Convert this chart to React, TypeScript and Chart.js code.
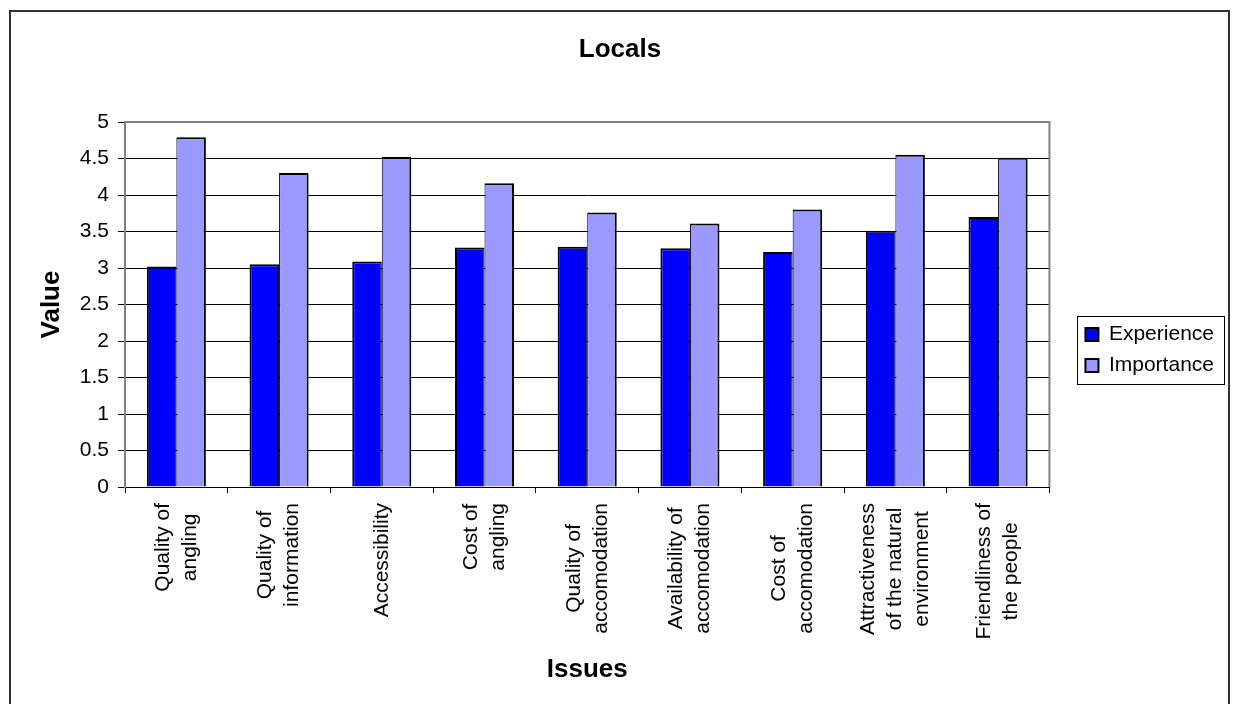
import React, { useEffect, useRef } from "react";
import { Chart, registerables } from "chart.js";

Chart.register(...registerables);

const FONT = "'Liberation Sans', Arial, Helvetica, sans-serif";

const chartTitle = "Locals";
const xTitle = "Issues";
const yTitle = "Value";

const categories: string[][] = [
  ["Quality of", "angling"],
  ["Quality of", "information"],
  ["Accessibility"],
  ["Cost of", "angling"],
  ["Quality of", "accomodation"],
  ["Availability of", "accomodation"],
  ["Cost of", "accomodation"],
  ["Attractiveness", "of the natural", "environment"],
  ["Friendliness of", "the people"],
];

const experience = [3.02, 3.05, 3.09, 3.28, 3.29, 3.27, 3.22, 3.51, 3.7];
const importance = [4.79, 4.3, 4.52, 4.16, 3.76, 3.61, 3.8, 4.55, 4.51];

const seriesNames = ["Experience", "Importance"];
const seriesColors = ["#0000FF", "#9999FF"];

const yMin = 0;
const yMax = 5;
const yStep = 0.5;

export default function App() {
  const ref = useRef<HTMLCanvasElement | null>(null);

  useEffect(() => {
    const canvas = ref.current;
    if (!canvas) return;

    const framePlugin = {
      id: "frame",
      beforeDraw(chart: any) {
        const { ctx, width, height } = chart;
        ctx.save();
        ctx.fillStyle = "#ffffff";
        ctx.fillRect(0, 0, width, height);
        ctx.restore();
      },
      beforeDatasetsDraw(chart: any) {
        const { ctx, chartArea } = chart;
        ctx.save();
        ctx.strokeStyle = "#808080";
        ctx.lineWidth = 2;
        ctx.beginPath();
        ctx.moveTo(chartArea.left, chartArea.top);
        ctx.lineTo(chartArea.right, chartArea.top);
        ctx.lineTo(chartArea.right, chartArea.bottom);
        ctx.stroke();
        ctx.restore();
      },
      afterDraw(chart: any) {
        const { ctx, width, height } = chart;
        ctx.save();
        ctx.strokeStyle = "#333333";
        ctx.lineWidth = 2;
        ctx.strokeRect(10, 11, width - 5 - 10, height + 10);
        ctx.restore();
      },
    };

    const xLabelPlugin = {
      id: "xLabels",
      afterDraw(chart: any) {
        const { ctx } = chart;
        const xs = chart.scales.x;
        const labels = chart.data.labels as string[][];
        const lineH = 27;
        const topY = xs.top + 16;
        ctx.save();
        ctx.font = `21px ${FONT}`;
        ctx.fillStyle = "#000000";
        ctx.textAlign = "center";
        ctx.textBaseline = "middle";
        labels.forEach((lines, i) => {
          const x = xs.getPixelForTick(i);
          const w = Math.max(...lines.map((l) => ctx.measureText(l).width));
          ctx.save();
          ctx.translate(x, topY);
          ctx.rotate(-Math.PI / 2);
          lines.forEach((line, j) => {
            const v = (j - (lines.length - 1) / 2) * lineH;
            ctx.fillText(line, -w / 2, v);
          });
          ctx.restore();
        });
        ctx.restore();
      },
    };

    const legendPlugin = {
      id: "legendPlace",
      afterLayout(chart: any) {
        const lg = chart.legend;
        if (!lg) return;
        const dx = chart.chartArea.right + 26 - lg.left;
        lg.left += dx;
        lg.right += dx;
        lg.top += 3;
        lg.bottom += 3;
      },
      afterDraw(chart: any) {
        const lg = chart.legend;
        if (!lg || !lg.legendHitBoxes || !lg.legendHitBoxes.length) return;
        const hb = lg.legendHitBoxes;
        const x0 = Math.min(...hb.map((h: any) => h.left)) - 8;
        const y0 = Math.min(...hb.map((h: any) => h.top)) - 8;
        const x1 = Math.max(...hb.map((h: any) => h.left + h.width)) + 10;
        const y1 = Math.max(...hb.map((h: any) => h.top + h.height)) + 8;
        const { ctx } = chart;
        ctx.save();
        ctx.strokeStyle = "#000000";
        ctx.lineWidth = 1;
        ctx.strokeRect(Math.round(x0) + 0.5, Math.round(y0) + 0.5, Math.round(x1 - x0), Math.round(y1 - y0));
        ctx.restore();
      },
    };

    const chart = new Chart(canvas, {
      type: "bar",
      data: {
        labels: categories,
        datasets: [
          {
            label: seriesNames[0],
            data: experience,
            backgroundColor: seriesColors[0],
            borderColor: "#000000",
            borderWidth: { top: 2, left: 2, right: 1, bottom: 0 },
            borderSkipped: "start",
            categoryPercentage: 0.575,
            barPercentage: 1,
          },
          {
            label: seriesNames[1],
            data: importance,
            backgroundColor: seriesColors[1],
            borderColor: "#000000",
            borderWidth: { top: 2, left: 1, right: 2, bottom: 0 },
            borderSkipped: "start",
            categoryPercentage: 0.575,
            barPercentage: 1,
          },
        ],
      } as any,
      options: {
        responsive: false,
        animation: false,
        events: [],
        devicePixelRatio: 1,
        layout: { padding: { left: 42, right: 36, top: 0, bottom: 10 } },
        plugins: {
          title: {
            display: true,
            text: chartTitle,
            color: "#000000",
            font: { family: FONT, size: 26, weight: "bold" },
            padding: { top: 34, bottom: 56.8 },
          },
          legend: {
            display: true,
            position: "right",
            labels: {
              color: "#000000",
              font: { family: FONT, size: 21 },
              boxWidth: 13,
              boxHeight: 13,
              padding: 10,
              generateLabels(c: any) {
                const items = Chart.defaults.plugins.legend.labels.generateLabels(c);
                return items.map((it: any) => ({ ...it, lineWidth: 2, strokeStyle: "#000000" }));
              },
            },
          },
          tooltip: { enabled: false },
        },
        scales: {
          x: {
            type: "category",
            offset: true,
            grid: {
              display: true,
              drawOnChartArea: false,
              drawTicks: true,
              tickLength: 6,
              color: "#000000",
              offset: true,
            },
            border: { display: true, color: "#000000", width: 1 },
            ticks: { display: false },
            title: {
              display: true,
              text: xTitle,
              color: "#000000",
              font: { family: FONT, size: 26, weight: "bold" },
              padding: { top: 0, bottom: 8.4 },
            },
            afterFit(s: any) {
              s.height = 207;
            },
          },
          y: {
            type: "linear",
            min: yMin,
            max: yMax,
            ticks: {
              stepSize: yStep,
              color: "#000000",
              font: { family: FONT, size: 21 },
              padding: 9,
              callback: (v: any) => String(v),
            },
            grid: {
              color: "#000000",
              lineWidth: 1,
              drawTicks: true,
              tickLength: 7,
            },
            border: { display: true, color: "#808080", width: 2 },
            title: {
              display: true,
              text: yTitle,
              color: "#000000",
              font: { family: FONT, size: 26, weight: "bold" },
              padding: { top: -5.6, bottom: 0 },
            },
            afterFit(s: any) {
              s.width = 83;
            },
          },
        },
      } as any,
      plugins: [framePlugin, xLabelPlugin, legendPlugin],
    });

    return () => {
      chart.destroy();
    };
  }, []);

  return (
    <div style={{ position: "absolute", left: 0, top: 0, width: 1234, height: 704, background: "#ffffff" }}>
      <canvas ref={ref} width={1234} height={704} style={{ display: "block", width: 1234, height: 704 }} />
    </div>
  );
}
